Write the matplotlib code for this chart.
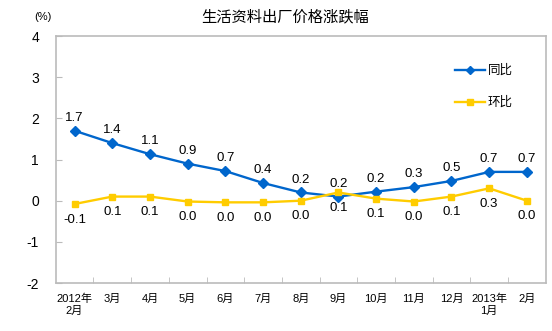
import matplotlib
matplotlib.use("Agg")
import matplotlib.pyplot as plt
import numpy as np

plt.rcParams['font.family'] = ['Liberation Sans', 'Noto Sans CJK SC', 'DejaVu Sans']
plt.rcParams['axes.unicode_minus'] = False

months = ['2012年\n2月', '3月', '4月', '5月', '6月', '7月', '8月', '9月',
          '10月', '11月', '12月', '2013年\n1月', '2月']
# values as plotted
yoy = [1.7, 1.4, 1.13, 0.9, 0.72, 0.43, 0.2, 0.1, 0.22, 0.33, 0.48, 0.7, 0.7]
mom = [-0.08, 0.1, 0.1, -0.02, -0.04, -0.04, 0.0, 0.2, 0.05, -0.02, 0.1, 0.3, 0.0]
# data labels as printed on the chart
yoy_labels = ['1.7', '1.4', '1.1', '0.9', '0.7', '0.4', '0.2', '0.2', '0.2', '0.3', '0.5', '0.7', '0.7']
mom_labels = ['-0.1', '0.1', '0.1', '0.0', '0.0', '0.0', '0.0', '0.1', '0.1', '0.0', '0.1', '0.3', '0.0']

blue = '#0066CC'
yellow = '#FFCC00'
grey = '#BBBBBB'

fig = plt.figure(figsize=(5.52, 3.31), dpi=100)
ax = fig.add_axes([0.101, 0.145, 0.8876, 0.746])

x = np.arange(len(months))
ax.plot(x, yoy, color=blue, lw=1.7, marker='D', ms=5, label='同比')
ax.plot(x, mom, color=yellow, lw=1.7, marker='s', ms=5, label='环比')

for xi, yi, t in zip(x, yoy, yoy_labels):
    ax.annotate(t, (xi, yi), xytext=(0, 5), textcoords='offset points',
                ha='center', va='bottom', fontsize=9.5)
for xi, yi, t in zip(x, mom, mom_labels):
    ax.annotate(t, (xi, yi), xytext=(0, -7), textcoords='offset points',
                ha='center', va='top', fontsize=9.5)

ax.set_xlim(-0.5, len(months) - 0.5)
ax.set_ylim(-2, 4)
ax.set_yticks(range(-2, 5))
ax.set_xticks(x)
ax.set_xticklabels(months, fontsize=8)
ax.set_xticks(np.arange(0.5, len(months) - 1, 1), minor=True)
ax.tick_params(axis='x', which='major', length=0, pad=8)
ax.tick_params(axis='x', which='minor', direction='in', length=4, color=grey)
ax.tick_params(axis='y', direction='in', length=4, color=grey, labelsize=10, pad=12)

for s in ax.spines.values():
    s.set_color(grey)
    s.set_linewidth(1.2)

leg = ax.legend(loc='upper right', bbox_to_anchor=(0.955, 0.93), frameon=False,
                fontsize=9, labelspacing=1.6, handlelength=2.4, handletextpad=0.2,
                markerscale=0.8)

fig.text(0.516, 0.948, '生活资料出厂价格涨跌幅', ha='center', va='center', fontsize=11)
fig.text(0.078, 0.948, '(%)', ha='center', va='center', fontsize=8)

fig.savefig('out.png', dpi=100)
